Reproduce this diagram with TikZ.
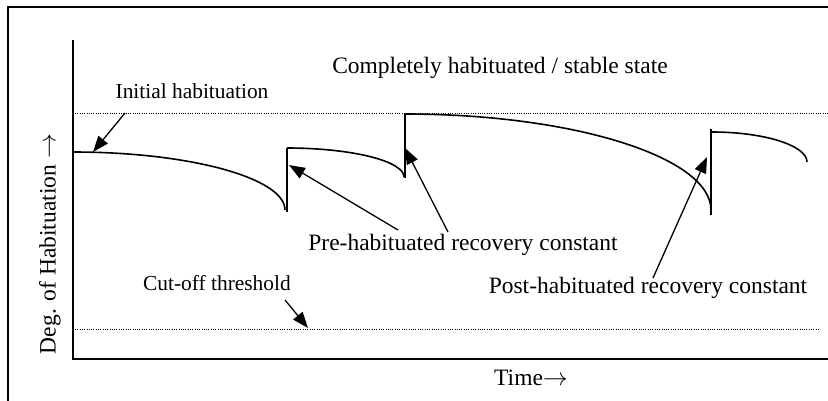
\documentclass[tikz,border=0pt]{standalone}
\usepackage{fontspec}
\setmainfont{Liberation Serif}
\usetikzlibrary{arrows.meta}
\begin{document}
\begin{tikzpicture}[x=1pt,y=-1pt,
  big/.style={font=\fontsize{23.5}{28}\selectfont, inner sep=0pt},
  small/.style={font=\fontsize{21.4}{26}\selectfont, inner sep=0pt},
  curve/.style={line width=1.6pt},
  dotline/.style={line width=1pt, dash pattern=on 1pt off 1.3pt},
  pointer/.style={line width=1.3pt, -{Triangle[length=16pt,width=12pt]}}]
\useasboundingbox (0,0) rectangle (828,400);
\clip (0,0) rectangle (828,400);
% frame
\draw[line width=1.5pt] (8,404) -- (8,7) -- (832,7);
% axes
\draw[line width=1.8pt] (73,40) -- (73,359) -- (832,359);
% dotted levels
\draw[dotline] (75,113) -- (828,113);
\draw[dotline] (75,329) -- (818,329);
% habituation curve
\draw[curve] (73,152) .. controls (189.6,152) and (285,178.1) .. (285,210);
\draw[curve] (287,212) -- (287,148);
\draw[curve] (287,148) .. controls (351.4,148) and (404,161) .. (404,177);
\draw[curve] (405,178) -- (405,113.5);
\draw[curve] (405,114) .. controls (573.3,114) and (711,157.2) .. (711,210);
\draw[curve] (711,215) -- (711,129);
\draw[curve] (712,132) .. controls (764.3,132) and (807,145.5) .. (807,162);
% texts
\node[big] (stable) at (500,68) {Completely habituated / stable state};
\node[small] (init) at (192,91) {Initial habituation};
\node[big] (pre) at (463,245) {Pre-habituated recovery constant};
\node[big] (post) at (648,288) {Post-habituated recovery constant};
\node[small] (cut) at (217,283) {Cut-off threshold};
\node[big] (time) at (531,378) {Time$\rightarrow$};
\node[big, rotate=90] (deg) at (50,244) {Deg. of Habituation $\rightarrow$};
% arrow end points
\coordinate (initT) at (125,113);
\coordinate (initH) at (93,152);
\coordinate (pre1T) at (398,230);
\coordinate (pre1H) at (289,165);
\coordinate (pre2T) at (448,232);
\coordinate (pre2H) at (405,148);
\coordinate (postT) at (653,278);
\coordinate (postH) at (707,157);
\coordinate (cutT) at (285,300);
\coordinate (cutH) at (308,328);
\draw[pointer] (initT) -- (initH);
\draw[pointer] (pre1T) -- (pre1H);
\draw[pointer] (pre2T) -- (pre2H);
\draw[pointer] (postT) -- (postH);
\draw[pointer] (cutT) -- (cutH);
\end{tikzpicture}
\end{document}
